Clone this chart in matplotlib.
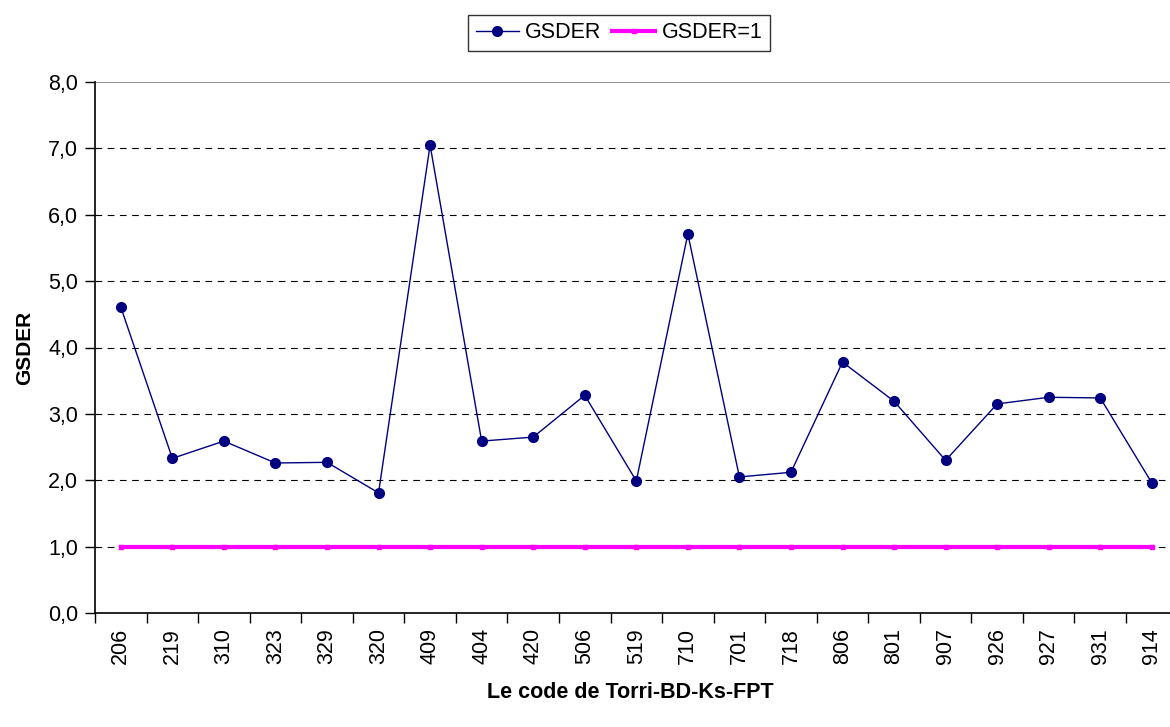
import matplotlib
matplotlib.use("Agg")
import matplotlib.pyplot as plt
from matplotlib.ticker import FuncFormatter, MultipleLocator

plt.rcParams['font.family'] = ['Liberation Sans', 'DejaVu Sans']

codes = ['206', '219', '310', '323', '329', '320', '409', '404', '420', '506', '519',
         '710', '701', '718', '806', '801', '907', '926', '927', '931', '914']
gsder = [4.61, 2.33, 2.59, 2.26, 2.27, 1.81, 7.05, 2.59, 2.65, 3.28, 1.99,
         5.71, 2.05, 2.12, 3.78, 3.19, 2.30, 3.15, 3.25, 3.24, 1.96]
threshold = [1.0] * len(codes)

fig = plt.figure(figsize=(11.7, 7.27), dpi=100)
ax = fig.add_axes([95 / 1170, 114 / 727, 1082.6 / 1170, 531 / 727])

x = list(range(len(codes)))
ax.plot(x, gsder, color='#000080', linewidth=1.0, marker='o', markersize=7,
        markerfacecolor='#000080', markeredgecolor='#000080', label='GSDER', zorder=4)
ax.plot(x, threshold, color='#FF00FF', linewidth=3.0, marker='s', markersize=3.5,
        markerfacecolor='#FF00FF', markeredgecolor='#FF00FF', label='GSDER=1', zorder=3)

ax.set_xlim(-0.5, len(codes) - 0.5)
ax.set_ylim(0, 8)
ax.yaxis.set_major_locator(MultipleLocator(1))
ax.yaxis.set_major_formatter(FuncFormatter(lambda v, p: f"{v:.1f}".replace('.', ',')))

for yv in range(1, 8):
    ax.axhline(yv, color='black', linewidth=0.8, linestyle=(0, (6, 5)), zorder=1)
ax.axhline(8, color='#808080', linewidth=1.2, zorder=1)

ax.set_xticks([i - 0.5 for i in range(len(codes) + 1)])
ax.set_xticklabels([])
ax.set_xticks(x, minor=True)
ax.set_xticklabels(codes, minor=True, rotation=90, fontsize=15.5)
ax.tick_params(axis='x', which='major', direction='out', length=7, width=1, color='black')
ax.tick_params(axis='x', which='minor', length=0, pad=11)
ax.tick_params(axis='y', direction='out', length=7, width=1, labelsize=15.5, pad=5)

for side in ['top', 'right']:
    ax.spines[side].set_visible(False)
for side in ['left', 'bottom']:
    ax.spines[side].set_linewidth(1.2)
    ax.spines[side].set_color('black')

ax.set_ylabel('GSDER', fontsize=15, fontweight='bold', labelpad=10)
fig.text(630 / 1170, 1 - 692 / 727, 'Le code de Torri-BD-Ks-FPT', fontsize=15.5,
         fontweight='bold', ha='center', va='center')

leg = fig.legend(loc='center', bbox_to_anchor=(619 / 1170, 1 - 33 / 727), ncol=2,
                 fontsize=15.5, frameon=True, fancybox=False, edgecolor='black',
                 handlelength=2.0, handletextpad=0.3, columnspacing=0.5,
                 borderpad=0.35)
leg.get_frame().set_linewidth(1.0)

fig.savefig('out.png', dpi=100)
